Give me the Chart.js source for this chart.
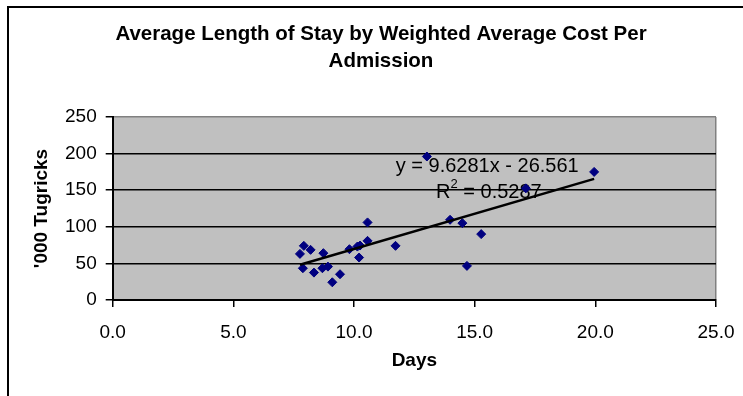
<!DOCTYPE html>
<html>
<head>
<meta charset="utf-8">
<script src="https://cdn.jsdelivr.net/npm/chart.js@4.4.1/dist/chart.umd.min.js"></script>
<style>
  html, body { margin: 0; padding: 0; background: #fff; }
  #wrap { position: relative; width: 743px; height: 396px; overflow: hidden; }
  #frame { position: absolute; left: 7px; top: 6px; width: 800px; height: 500px;
           border-left: 2px solid #000; border-top: 2px solid #000; pointer-events: none; }
</style>
</head>
<body>
<div id="wrap">
  <canvas id="grafico" width="743" height="396"></canvas>
  <div id="frame"></div>
</div>
<script>
// datos
const dias = [7.76, 7.92, 8.20, 7.88, 8.34, 8.73, 8.69, 8.92, 9.10, 9.42, 9.81, 10.14, 10.21, 10.25, 10.56, 10.56, 11.72, 13.02, 13.98, 14.49, 15.27, 14.68, 17.12, 19.95]
const costo = [63, 74, 68.5, 43.4, 37.4, 64, 43.4, 45.6, 24.2, 35.2, 69.4, 73, 58, 74.4, 80.8, 106, 74, 196, 109.6, 105, 90, 46.6, 152.5, 175]

// linea de tendencia (extremos)
const tendenciaX = [7.76, 19.95]
const tendenciaY = [48.2, 165.5]

const ecuacion = "y = 9.6281x - 26.561"
const r2Valor = " = 0.5287"

const titulo = ["Average Length of Stay by Weighted Average Cost Per", "Admission"]
const tituloX = "Days"
const tituloY = "'000 Tugricks"

const fuente = "'Liberation Sans', Arial, sans-serif"

const puntos = dias.map((d, i) => ({ x: d, y: costo[i] }))
const lineaTendencia = tendenciaX.map((d, i) => ({ x: d, y: tendenciaY[i] }))

const fondoPlot = {
    id: 'fondoPlot',
    beforeDraw(chart) {
        const { ctx, chartArea } = chart
        ctx.save()
        ctx.fillStyle = '#C0C0C0'
        ctx.fillRect(chartArea.left, chartArea.top, chartArea.right - chartArea.left, chartArea.bottom - chartArea.top)
        ctx.restore()
    }
}

const textoEcuacion = {
    id: 'textoEcuacion',
    beforeDatasetsDraw(chart) {
        const { ctx, scales } = chart
        ctx.save()
        ctx.fillStyle = '#000'
        ctx.textBaseline = 'middle'
        ctx.font = "20px " + fuente
        ctx.fillText(ecuacion, scales.x.getPixelForValue(11.73), scales.y.getPixelForValue(183))

        let x = scales.x.getPixelForValue(13.4)
        const y = scales.y.getPixelForValue(146.6)
        ctx.fillText("R", x, y)
        x += ctx.measureText("R").width
        ctx.font = "13px " + fuente
        ctx.fillText("2", x, y - 8)
        x += ctx.measureText("2").width
        ctx.font = "20px " + fuente
        ctx.fillText(r2Valor, x, y)
        ctx.restore()
    }
}

const ctx = document.getElementById("grafico")

new Chart(ctx, {
    type: 'scatter',
    data: {
        datasets: [{
            type: 'line',
            data: lineaTendencia,
            borderColor: '#000',
            borderWidth: 2.5,
            pointRadius: 0,
            fill: false
        }, {
            data: puntos,
            backgroundColor: '#000080',
            borderColor: '#000080',
            borderWidth: 1,
            pointStyle: 'rectRot',
            pointRadius: 4.5
        }]
    },
    options: {
        responsive: false,
        animation: false,
        layout: { padding: { left: 46, right: 27, top: 0, bottom: 0 } },
        plugins: {
            legend: { display: false },
            tooltip: { enabled: false },
            title: {
                display: true,
                text: titulo,
                color: '#000',
                font: { family: fuente, size: 20.5, weight: 'bold', lineHeight: 1.317 },
                padding: { top: 21, bottom: 42 }
            }
        },
        scales: {
            x: {
                type: 'linear',
                min: 0,
                max: 25,
                afterFit: (scale) => {
                    scale.height = 96
                    scale.paddingLeft = 0
                    scale.paddingRight = 0
                },
                ticks: {
                    stepSize: 5,
                    color: '#000',
                    padding: 14,
                    font: { family: fuente, size: 19 },
                    callback: (v) => v.toFixed(1)
                },
                grid: {
                    drawOnChartArea: true,
                    color: (c) => (c.tick && c.tick.value === 25) ? '#808080' : 'rgba(0,0,0,0)',
                    lineWidth: 1.5,
                    tickColor: '#000',
                    tickLength: 7
                },
                border: { color: '#000', width: 2 },
                title: {
                    display: true,
                    text: tituloX,
                    color: '#000',
                    font: { family: fuente, size: 19, weight: 'bold' },
                    padding: { top: 0, bottom: 24 }
                }
            },
            y: {
                min: 0,
                max: 250,
                afterFit: (scale) => { scale.width = 66.7 },
                ticks: {
                    stepSize: 50,
                    color: '#000',
                    padding: 9,
                    font: { family: fuente, size: 19 }
                },
                grid: {
                    color: (c) => (c.tick && c.tick.value === 250) ? '#808080' : '#000',
                    lineWidth: 1.5,
                    tickColor: '#000',
                    tickLength: 7
                },
                border: { color: '#000', width: 2 },
                title: {
                    display: true,
                    text: tituloY,
                    color: '#000',
                    font: { family: fuente, size: 19, weight: 'bold' },
                    padding: { top: -15.4, bottom: 0 }
                }
            }
        }
    },
    plugins: [fondoPlot, textoEcuacion]
})
</script>
</body>
</html>
